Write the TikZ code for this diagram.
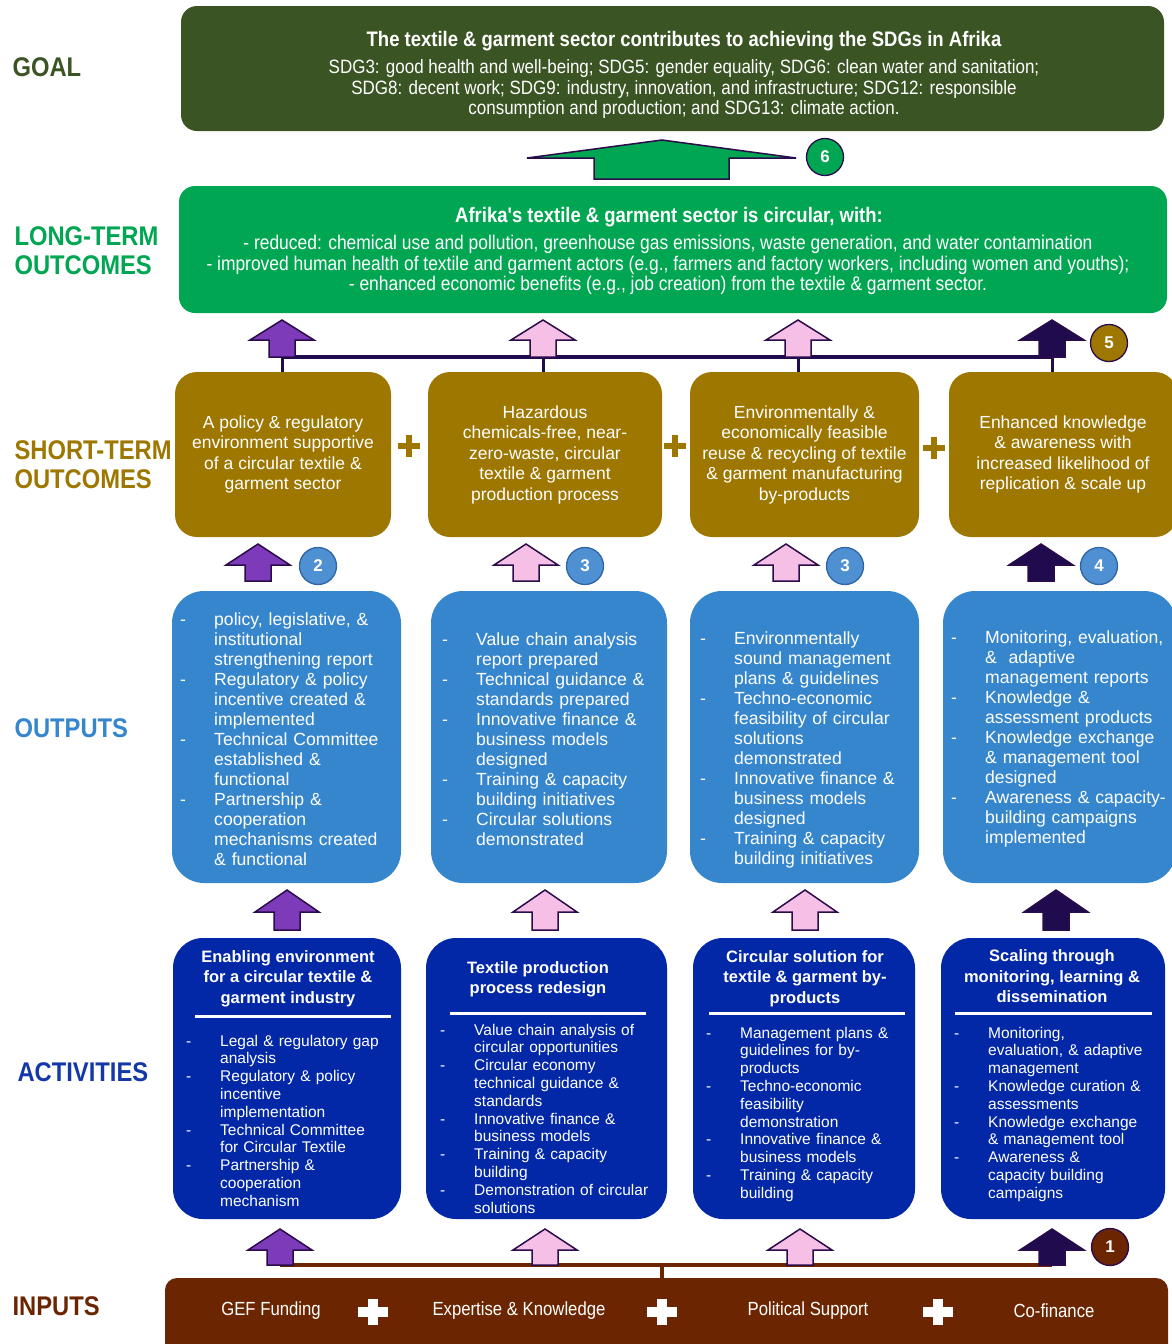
\documentclass[tikz,border=0pt]{standalone}
\usepackage{fontspec}
\setmainfont{Liberation Sans}
\newfontfamily\condfont[FakeStretch=0.88]{Liberation Sans}
\setlength{\parskip}{0pt}

\definecolor{goalgreen}{HTML}{3B5423}
\definecolor{ltgreen}{HTML}{00A651}
\definecolor{stgold}{HTML}{9D7700}
\definecolor{outblue}{HTML}{3686CE}
\definecolor{actblue}{HTML}{0228A8}
\definecolor{actlab}{HTML}{1538A8}
\definecolor{inbrown}{HTML}{6B2601}
\definecolor{arpurple}{HTML}{7E3BB9}
\definecolor{arpink}{HTML}{F5BFE6}
\definecolor{arnavy}{HTML}{1F0B4E}
\definecolor{arline}{HTML}{2A0C4A}
\definecolor{numblue}{HTML}{4F90D3}
\definecolor{numedge}{HTML}{2F64A6}

\tikzset{lab/.style={anchor=west,align=left,font=\condfont\bfseries\fontsize{27}{29}\selectfont},
         bigbox/.style={rounded corners=16pt,inner sep=0pt},
         stbox/.style={fill=stgold,rounded corners=22pt,minimum height=165pt,inner sep=0pt,
                       text=white,align=center,font=\fontsize{17.5}{20.5}\selectfont},
         outbox/.style={fill=outblue,rounded corners=32pt,minimum height=292pt,inner sep=0pt},
         actbox/.style={fill=actblue,rounded corners=30pt,minimum height=281pt,inner sep=0pt},
         outlist/.style={anchor=north west,text=white,text width=300pt,align=left,inner sep=0pt,
                         font=\fontsize{17.6}{20}\selectfont},
         actlist/.style={anchor=north west,text=white,text width=300pt,align=left,inner sep=0pt,
                         font=\fontsize{15.5}{17.8}\selectfont},
         acthead/.style={text=white,align=center,inner sep=0pt,font=\bfseries\fontsize{16.5}{20.5}\selectfont},
         wtxt/.style={text=white,align=center,inner sep=0pt},
         numc/.style={circle,draw,line width=1.3pt,minimum size=37pt,inner sep=0pt,text=white,
                      font=\bfseries\fontsize{17}{17}\selectfont},
         blockar/.style={draw=arline,line width=1.5pt,line join=miter},
         rule/.style={white,line width=3pt}}

\newcommand\blockup[5]{%
  \draw[blockar,fill=#5] (#1,#2) -- ({#1+32},#3) -- ({#1+13},#3) -- ({#1+13},#4)
    -- ({#1-13},#4) -- ({#1-13},#3) -- ({#1-32},#3) -- cycle;}
\newcommand\plusmark[6]{%
  \fill[#6] ({#1-#3},{#2-#5}) rectangle ({#1+#3},{#2+#5});
  \fill[#6] ({#1-#5},{#2-#4}) rectangle ({#1+#5},{#2+#4});}
\newcommand\bul[1]{\par\hangindent=34pt\hangafter=1\noindent\hbox to 34pt{-\hfil}#1\par}

\begin{document}
\begin{tikzpicture}[x=1pt,y=-1pt]
  \useasboundingbox (0,0) rectangle (1171,1344);

  % row labels
  \node[lab,text=goalgreen] (lgoal) at (9,67) {GOAL};
  \node[lab,text=ltgreen] (llong) at (11,250.5) {LONG-TERM\\OUTCOMES};
  \node[lab,text=stgold] (lshort) at (11,464.5) {SHORT-TERM\\OUTCOMES};
  \node[lab,text=outblue] (lout) at (11,728) {OUTPUTS};
  \node[lab,text=actlab] (lact) at (14,1072) {ACTIVITIES};
  \node[lab,text=inbrown] (linp) at (9,1306) {INPUTS};

  % goal
  \node[bigbox,fill=goalgreen,minimum width=983pt,minimum height=125pt] (goal) at (672.5,68.5) {};
  \node[wtxt,font=\condfont\bfseries\fontsize{21}{23}\selectfont] (goalt) at (684,41)
    {The textile \& garment sector contributes to achieving the SDGs in Afrika};
  \node[wtxt,font=\condfont\fontsize{19.3}{20.5}\selectfont] (goalb) at (684,89.5)
    {SDG3: good health and well-being; SDG5: gender equality, SDG6: clean water and sanitation;\\
     SDG8: decent work; SDG9: industry, innovation, and infrastructure; SDG12: responsible\\
     consumption and production; and SDG13: climate action.};
  \draw[blockar,fill=ltgreen] (662,140) -- (796,158) -- (729,158) -- (729,179)
    -- (594,179) -- (594,158) -- (527,158) -- cycle;
  \node[numc,draw=arline,fill=ltgreen] (n6) at (825,157) {6};

  % long-term outcomes
  \node[bigbox,fill=ltgreen,minimum width=988pt,minimum height=127pt] (lto) at (673,249.5) {};
  \node[wtxt,font=\condfont\bfseries\fontsize{21}{23}\selectfont] (ltot) at (669,217)
    {Afrika's textile \& garment sector is circular, with:};
  \node[wtxt,font=\condfont\fontsize{19.8}{20.5}\selectfont] (ltob) at (668,265)
    {- reduced: chemical use and pollution, greenhouse gas emissions, waste generation, and water contamination\\
     - improved human health of textile and garment actors (e.g., farmers and factory workers, including women and youths);\\
     - enhanced economic benefits (e.g., job creation) from the textile \& garment sector.};

  % short-term outcomes
  \node[stbox,minimum width=216pt] (st1) at (283,454.5)
    {A policy \& regulatory\\environment supportive\\of a circular textile \&\\garment sector};
  \node[stbox,minimum width=234pt] (st2) at (545,454.5)
    {Hazardous\\chemicals-free, near-\\zero-waste, circular\\textile \& garment\\production process};
  \node[stbox,minimum width=229pt] (st3) at (804.5,454.5)
    {Environmentally \&\\economically feasible\\reuse \& recycling of textile\\\& garment manufacturing\\by-products};
  \node[stbox,minimum width=228pt] (st4) at (1063,454.5)
    {Enhanced knowledge\\\& awareness with\\increased likelihood of\\replication \& scale up};
  \foreach \x/\y in {409/446,675/446,934/448} \plusmark{\x}{\y}{11}{11}{3}{stgold};

  % arrows up to the long-term box
  \foreach \x [count=\i] in {282,543,798,1052} \coordinate (ra\i) at (\x,357);
  \draw[arnavy,line width=4pt] (ra1) -- (ra4);
  \foreach \i in {1,...,4} \draw[arnavy,line width=3pt] (ra\i) -- (ra\i |- st\i.north);
  \foreach \x/\col in {282/arpurple,543/arpink,798/arpink,1052/arnavy}
    \blockup{\x}{320}{340}{357}{\col};
  \node[numc,draw=arline,fill=stgold] (n5) at (1109,343) {5};

  % outputs
  \node[outbox,minimum width=229pt] (out1) at (286.5,737) {};
  \node[outbox,minimum width=236pt] (out2) at (549,737) {};
  \node[outbox,minimum width=229pt] (out3) at (804.5,737) {};
  \node[outbox,minimum width=233pt] (out4) at (1059.5,737) {};
  \node[outlist] (ol1) at (180,605)
    {\bul{policy, legislative, \&\newline institutional\newline strengthening report}%
     \bul{Regulatory \& policy\newline incentive created \&\newline implemented}%
     \bul{Technical Committee\newline established \&\newline functional}%
     \bul{Partnership \&\newline cooperation\newline mechanisms created\newline \& functional}};
  \node[outlist] (ol2) at (442,625)
    {\bul{Value chain analysis\newline report prepared}%
     \bul{Technical guidance \&\newline standards prepared}%
     \bul{Innovative finance \&\newline business models\newline designed}%
     \bul{Training \& capacity\newline building initiatives}%
     \bul{Circular solutions\newline demonstrated}};
  \node[outlist] (ol3) at (700,624)
    {\bul{Environmentally\newline sound management\newline plans \& guidelines}%
     \bul{Techno-economic\newline feasibility of circular\newline solutions\newline demonstrated}%
     \bul{Innovative finance \&\newline business models\newline designed}%
     \bul{Training \& capacity\newline building initiatives}};
  \node[outlist] (ol4) at (951,623)
    {\bul{Monitoring, evaluation,\newline \&~ adaptive\newline management reports}%
     \bul{Knowledge \&\newline assessment products}%
     \bul{Knowledge exchange\newline \& management tool\newline designed}%
     \bul{Awareness \& capacity-\newline building campaigns\newline implemented}};

  % arrows up to the short-term boxes
  \foreach \x/\col in {258/arpurple,526/arpink,786/arpink,1041/arnavy}
    \blockup{\x}{544}{565}{581}{\col};
  \foreach \x/\n [count=\i] in {318/2,585/3,845/3,1099/4}
    \node[numc,draw=numedge,fill=numblue] (nb\i) at (\x,566) {\n};

  % activities
  \node[actbox,minimum width=228pt] (act1) at (287,1078.5) {};
  \node[actbox,minimum width=241pt] (act2) at (546.5,1078.5) {};
  \node[actbox,minimum width=222pt] (act3) at (804,1078.5) {};
  \node[actbox,minimum width=224pt] (act4) at (1053,1078.5) {};
  \node[acthead] (ah1) at (288,978.5) {Enabling environment\\for a circular textile \&\\garment industry};
  \node[acthead] (ah2) at (538,979.5) {Textile production\\process redesign};
  \node[acthead] (ah3) at (805,978.5) {Circular solution for\\textile \& garment by-\\products};
  \node[acthead] (ah4) at (1052,976.5) {Scaling through\\monitoring, learning \&\\dissemination};
  \draw[rule] (195,1016) -- (391,1016);
  \draw[rule] (450,1013) -- (646,1013);
  \draw[rule] (709,1013) -- (905,1013);
  \draw[rule] (955,1013) -- (1152,1013);
  \node[actlist] (al1) at (186,1028)
    {\bul{Legal \& regulatory gap\newline analysis}%
     \bul{Regulatory \& policy\newline incentive\newline implementation}%
     \bul{Technical Committee\newline for Circular Textile}%
     \bul{Partnership \&\newline cooperation\newline mechanism}};
  \node[actlist] (al2) at (440,1017)
    {\bul{Value chain analysis of\newline circular opportunities}%
     \bul{Circular economy\newline technical guidance \&\newline standards}%
     \bul{Innovative finance \&\newline business models}%
     \bul{Training \& capacity\newline building}%
     \bul{Demonstration of circular\newline solutions}};
  \node[actlist] (al3) at (706,1020)
    {\bul{Management plans \&\newline guidelines for by-\newline products}%
     \bul{Techno-economic\newline feasibility\newline demonstration}%
     \bul{Innovative finance \&\newline business models}%
     \bul{Training \& capacity\newline building}};
  \node[actlist] (al4) at (954,1020)
    {\bul{Monitoring,\newline evaluation, \& adaptive\newline management}%
     \bul{Knowledge curation \&\newline assessments}%
     \bul{Knowledge exchange\newline \& management tool}%
     \bul{Awareness \&\newline capacity building\newline campaigns}};

  % arrows up to the outputs
  \foreach \x/\col in {287/arpurple,545/arpink,805/arpink,1056/arnavy}
    \blockup{\x}{890}{912}{930}{\col};

  % inputs
  \node[bigbox,rounded corners=12pt,fill=inbrown,minimum width=1003pt,minimum height=80pt] (inp) at (666.5,1318) {};
  \foreach \x/\t [count=\i] in {271/GEF Funding,519/Expertise \& Knowledge,808/Political Support,1054/Co-finance}
    \node[wtxt,font=\condfont\fontsize{19}{21}\selectfont] (in\i) at (\x,1311) {\t};
  \foreach \x in {373,662,938} \plusmark{\x}{1312}{15}{13}{5}{white};
  \foreach \x [count=\i] in {280,545,800,1052} \coordinate (rd\i) at (\x,1265);
  \coordinate (hub) at (662,1265);
  \draw[inbrown,line width=4pt] (rd1) -- (rd4);
  \draw[inbrown,line width=4pt] (hub) -- (hub |- inp.north);
  \foreach \x/\col in {280/arpurple,545/arpink,800/arpink,1052/arnavy}
    \blockup{\x}{1229}{1250}{1265}{\col};
  \node[numc,draw=arline,fill=inbrown] (n1) at (1110,1247) {1};
\end{tikzpicture}
\end{document}
